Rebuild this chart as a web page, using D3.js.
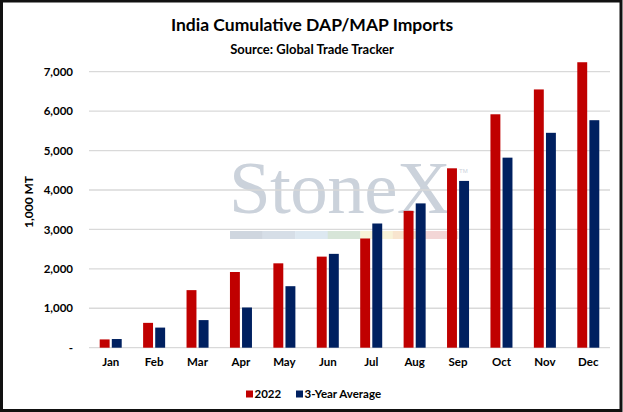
<!DOCTYPE html>
<html>
<head>
<meta charset="utf-8">
<script src="https://cdn.jsdelivr.net/npm/d3@7"></script>
<style>
html,body{margin:0;padding:0;background:#fff;}
svg{display:block;}
text{font-family:Lato,"Open Sans",sans-serif;font-weight:bold;fill:#000;}
</style>
</head>
<body>
<svg id="chart" width="623" height="412"></svg>
<script>
const months = ["Jan","Feb","Mar","Apr","May","Jun","Jul","Aug","Sep","Oct","Nov","Dec"];
const seriesNames = ["2022","3-Year Average"];
const values2022 = [210,630,1460,1920,2140,2310,2770,3470,4550,5920,6550,7240];
const valuesAvg = [220,510,700,1020,1560,2380,3150,3660,4230,4820,5450,5770];
const yTicks = [0,1000,2000,3000,4000,5000,6000,7000];
const colors = ["#c00000","#002060"];
const titleText = "India Cumulative DAP/MAP Imports";
const subtitleText = "Source: Global Trade Tracker";
const yTitle = "1,000 MT";
const watermark = "StoneX";
const bandColors = ["#cfd6df","#d6dee7","#dde8f1","#d7e5d8","#f8f3d9","#f8e5cf","#f3d6d6"];

const svg = d3.select("#chart");
const plot = {left: 89, right: 610, top: 71.7, bottom: 347.7};

// frame
svg.append("rect").attr("x",1.5).attr("y",1).attr("width",619.5).attr("height",409.5)
  .attr("fill","#fff").attr("stroke","#111").attr("stroke-width",3);

// titles
svg.append("text").attr("x",312).attr("y",31).attr("text-anchor","middle")
  .style("font-size","17.5px").text(titleText);
svg.append("text").attr("x",312).attr("y",54).attr("text-anchor","middle")
  .style("font-size","13px").text(subtitleText);

const x0 = d3.scaleBand().domain(months).range([plot.left, plot.right]).padding(0);
const groupW = x0.bandwidth() * 0.507;
const x1 = d3.scaleBand().domain(seriesNames)
  .range([(x0.bandwidth()-groupW)/2, (x0.bandwidth()+groupW)/2]).paddingInner(0.18);
const y = d3.scaleLinear().domain([0,7000]).range([plot.bottom, plot.top]);

// watermark
const wm = svg.append("g");
wm.append("text").attr("x",229).attr("y",213).attr("textLength",222)
  .style("font-family","'Liberation Serif','DejaVu Serif',serif").style("font-weight","normal")
  .style("font-size","75px").style("fill","#cbd2db").text(watermark);
wm.append("text").attr("x",459).attr("y",173)
  .style("font-family","'Liberation Sans',sans-serif").style("font-weight","normal")
  .style("font-size","6px").style("fill","#cbd2db").text("TM");
const bx = d3.scaleBand().domain(d3.range(bandColors.length)).range([230,458]);
wm.selectAll("rect").data(bandColors).join("rect")
  .attr("x",(d,i)=>bx(i)).attr("y",231).attr("width",bx.bandwidth()+0.3).attr("height",8)
  .attr("fill",d=>d);

// gridlines
svg.append("g").selectAll("line").data(yTicks).join("line")
  .attr("x1",plot.left).attr("x2",plot.right)
  .attr("y1",d=>y(d)).attr("y2",d=>y(d))
  .attr("stroke","#d9d9d9").attr("stroke-width",1.3);

// y axis
const yAxis = d3.axisLeft(y).tickValues(yTicks).tickSize(0).tickPadding(0)
  .tickFormat(d => d === 0 ? "-" : d3.format(",")(d));
const gy = svg.append("g").attr("transform",`translate(73,0)`).call(yAxis);
gy.select(".domain").remove();
gy.selectAll("text").style("font-size","11.5px").style("font-family","Lato,sans-serif").attr("fill","#000");

// y title
svg.append("text").attr("transform","translate(33,202) rotate(-90)").attr("text-anchor","middle")
  .style("font-size","12px").text(yTitle);

// x axis
const xAxis = d3.axisBottom(x0).tickSize(0).tickPadding(0);
const gx = svg.append("g").attr("transform",`translate(0,${plot.bottom+10})`).call(xAxis);
gx.select(".domain").remove();
gx.selectAll("text").style("font-size","11.5px").style("font-family","Lato,sans-serif").attr("fill","#000");

// bars
const data = months.map((m,i)=>({month:m, vals:[values2022[i], valuesAvg[i]]}));
const groups = svg.append("g").selectAll("g").data(data).join("g")
  .attr("transform",d=>`translate(${x0(d.month)},0)`);
groups.selectAll("rect").data(d=>d.vals.map((v,j)=>({key:seriesNames[j], v, j}))).join("rect")
  .attr("x",d=>x1(d.key)).attr("width",x1.bandwidth())
  .attr("y",d=>y(d.v)).attr("height",d=>y(0)-y(d.v))
  .attr("fill",d=>colors[d.j]);

// legend
const legend = svg.append("g");
const legItems = [{name:seriesNames[0], x:246},{name:seriesNames[1], x:296}];
legItems.forEach((it,i)=>{
  legend.append("rect").attr("x",it.x).attr("y",390.5).attr("width",7).attr("height",7).attr("fill",colors[i]);
  legend.append("text").attr("x",it.x+8.5).attr("y",398).style("font-size","11.5px").text(it.name);
});
</script>
</body>
</html>
